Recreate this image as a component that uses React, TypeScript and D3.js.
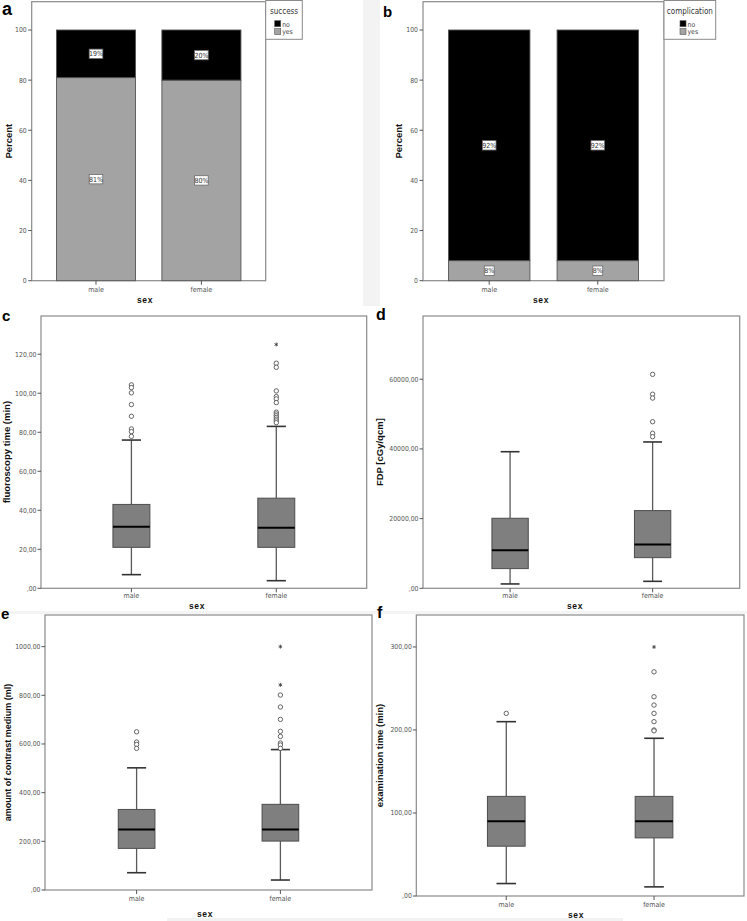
import React from "react";
import * as d3 from "d3";

// ---------- DATA ----------
const sexCategories = ["male", "female"];

const successNo = [19, 20];
const successYes = [81, 80];
const complicationNo = [92, 92];
const complicationYes = [8, 8];
const percentTicks = [0, 20, 40, 60, 80, 100];

// box stats: [low whisker, Q1, median, Q3, high whisker]
const fluoroMale = [7, 21, 31.5, 43, 76];
const fluoroFemale = [3.9, 21, 31, 46.2, 83];
const fluoroMaleOutliers = [104.3, 102.9, 100.2, 94.2, 88.2, 81.7, 80.3, 77.9];
const fluoroFemaleOutliers = [115.4, 113.3, 101.2, 98.3, 97.1, 95.2, 90.3, 89.4, 88.5, 87.6, 86.7, 85.8, 84.9];
const fluoroFemaleExtremes = [125];
const fluoroTicks = [0, 20, 40, 60, 80, 100, 120];

const fdpMale = [1250, 5650, 10900, 20100, 39200];
const fdpFemale = [2000, 8800, 12600, 22300, 42000];
const fdpMaleOutliers: number[] = [];
const fdpFemaleOutliers = [61400, 55700, 54600, 47800, 44500, 43500];
const fdpTicks = [0, 20000, 40000, 60000];

const contrastMale = [71, 171, 249, 331, 502];
const contrastFemale = [41, 201, 249, 352, 577];
const contrastMaleOutliers = [650, 608, 598, 582];
const contrastFemaleOutliers = [801, 752, 701, 652, 631, 604, 596, 582];
const contrastFemaleExtremes = [1000, 843];
const contrastTicks = [0, 200, 400, 600, 800, 1000];

const examMale = [15, 60, 90, 120, 210];
const examFemale = [11, 70, 90, 120, 190];
const examMaleOutliers = [220];
const examFemaleOutliers = [270, 240, 230, 220, 210, 200, 199];
const examFemaleExtremes = [300];
const examTicks = [0, 100, 200, 300];

// ---------- STYLE ----------
const tickFont = "'Liberation Sans Narrow', 'DejaVu Sans Condensed', 'Liberation Sans', Arial, sans-serif";
const boldFont = "'Liberation Sans', Arial, sans-serif";
const frameColor = "#8a8a8a";

const fmt = (v: number) => (v === 0 ? ",00" : `${v},00`);

type Frame = { x0: number; x1: number; y0: number; y1: number };

function BarPanel(props: {
  frame: Frame;
  y100: number;
  noVals: number[];
  yesVals: number[];
  legendTitle: string;
  legend: { x0: number; x1: number; sq: number };
  letter: string;
  letterPos: [number, number, number];
  yTitleX: number;
  sexX: number;
}) {
  const { frame, noVals, yesVals } = props;
  const y = d3.scaleLinear().domain([0, 100]).range([frame.y1, props.y100]);
  const x = d3.scalePoint<string>().domain(sexCategories).range([frame.x0, frame.x1]).padding(0.61);
  const bw = x.step() * 0.75;
  const labelBox = (cx: number, cy: number, t: string, key: string) => {
    const w = t.length * 3.7 + 2.5;
    return (
      <g key={key}>
        <rect x={cx - w / 2} y={cy - 4.7} width={w} height={9.4} fill="#fff" stroke="#6a6a6a" strokeWidth={0.8} />
        <text x={cx} y={cy + 2.5} textAnchor="middle" fontSize={7} fontFamily={tickFont} fill="#333">{t}</text>
      </g>
    );
  };
  return (
    <g>
      <rect x={frame.x0} y={frame.y0} width={frame.x1 - frame.x0} height={frame.y1 - frame.y0} fill="#fff" stroke={frameColor} strokeWidth={1.2} />
      {sexCategories.map((c, i) => {
        const cx = x(c)!;
        const yesTop = y(yesVals[i]);
        const noTop = y(yesVals[i] + noVals[i]);
        return (
          <g key={c}>
            <rect x={cx - bw / 2} y={yesTop} width={bw} height={y(0) - yesTop} fill="#a3a3a3" stroke="#555" strokeWidth={0.9} />
            <rect x={cx - bw / 2} y={noTop} width={bw} height={yesTop - noTop} fill="#000" stroke="#555" strokeWidth={0.9} />
            {labelBox(cx, (yesTop + y(0)) / 2, `${yesVals[i]}%`, "y" + c)}
            {labelBox(cx, (noTop + yesTop) / 2, `${noVals[i]}%`, "n" + c)}
            <line x1={cx} x2={cx} y1={frame.y1} y2={frame.y1 + 4} stroke="#555" />
            <text x={cx} y={frame.y1 + 11.5} textAnchor="middle" fontSize={7} fontFamily={tickFont} fill="#555">{c}</text>
          </g>
        );
      })}
      {percentTicks.map((t) => (
        <g key={t}>
          <line x1={frame.x0 - 3.5} x2={frame.x0} y1={y(t)} y2={y(t)} stroke="#555" />
          <text x={frame.x0 - 5} y={y(t) + 2.4} textAnchor="end" fontSize={6.8} fontFamily={tickFont} fill="#555">{t}</text>
        </g>
      ))}
      <text transform={`translate(${props.yTitleX},${(frame.y0 + frame.y1) / 2}) rotate(-90)`} textAnchor="middle" fontSize={9.5} fontWeight="bold" fontFamily={boldFont} fill="#111">Percent</text>
      <text x={props.sexX} y={303} textAnchor="middle" fontSize={8.5} fontWeight="bold" fontFamily={boldFont} letterSpacing={0.6} fill="#111">sex</text>
      <rect x={props.legend.x0} y={0.5} width={props.legend.x1 - props.legend.x0} height={38.8} fill="#fff" stroke={frameColor} strokeWidth={1} />
      <text x={(props.legend.x0 + props.legend.x1) / 2} y={14} textAnchor="middle" fontSize={8} fontFamily={tickFont} fill="#333">{props.legendTitle}</text>
      <rect x={props.legend.sq} y={20.7} width={6} height={6} fill="#000" stroke="#555" strokeWidth={0.6} />
      <text x={props.legend.sq + 7.5} y={26.5} fontSize={6.8} fontFamily={tickFont} fill="#444">no</text>
      <rect x={props.legend.sq} y={28.6} width={6} height={6} fill="#a3a3a3" stroke="#555" strokeWidth={0.6} />
      <text x={props.legend.sq + 7.5} y={34.3} fontSize={6.8} fontFamily={tickFont} fill="#444">yes</text>
      <text x={props.letterPos[0]} y={props.letterPos[1]} fontSize={props.letterPos[2]} fontWeight="bold" fontFamily={boldFont} fill="#000">{props.letter}</text>
    </g>
  );
}

function Asterisk({ cx, cy }: { cx: number; cy: number }) {
  const r = 2;
  return (
    <g stroke="#333" strokeWidth={0.8}>
      {[90, 30, -30].map((a) => {
        const rad = (a * Math.PI) / 180;
        return <line key={a} x1={cx - r * Math.cos(rad)} y1={cy - r * Math.sin(rad)} x2={cx + r * Math.cos(rad)} y2={cy + r * Math.sin(rad)} />;
      })}
    </g>
  );
}

function BoxPanel(props: {
  frame: Frame;
  yMax: number;
  ticks: number[];
  stats: number[][];
  outliers: number[][];
  extremes: number[][];
  yTitle: string;
  yTitleX: number;
  yTitleSize: number;
  letter: string;
  letterPos: [number, number, number];
  catLabelY: number;
  sexPos: [number, number];
  padding: number;
}) {
  const { frame } = props;
  const y = d3.scaleLinear().domain([0, props.yMax]).range([frame.y1, frame.y0]);
  const x = d3.scalePoint<string>().domain(sexCategories).range([frame.x0, frame.x1]).padding(props.padding);
  const bw = x.step() * 0.255;
  const cw = bw * 0.52;
  return (
    <g>
      <rect x={frame.x0} y={frame.y0} width={frame.x1 - frame.x0} height={frame.y1 - frame.y0} fill="#fff" stroke={frameColor} strokeWidth={1.2} />
      {sexCategories.map((c, i) => {
        const cx = x(c)!;
        const [lo, q1, med, q3, hi] = props.stats[i];
        return (
          <g key={c}>
            <line x1={cx} x2={cx} y1={y(lo)} y2={y(q1)} stroke="#5a5a5a" strokeWidth={1.3} />
            <line x1={cx} x2={cx} y1={y(q3)} y2={y(hi)} stroke="#5a5a5a" strokeWidth={1.3} />
            <line x1={cx - cw / 2} x2={cx + cw / 2} y1={y(lo)} y2={y(lo)} stroke="#333" strokeWidth={1.6} />
            <line x1={cx - cw / 2} x2={cx + cw / 2} y1={y(hi)} y2={y(hi)} stroke="#333" strokeWidth={1.6} />
            <rect x={cx - bw / 2} y={y(q3)} width={bw} height={y(q1) - y(q3)} fill="#7f7f7f" stroke="#4d4d4d" strokeWidth={1} />
            <line x1={cx - bw / 2} x2={cx + bw / 2} y1={y(med)} y2={y(med)} stroke="#000" strokeWidth={2} />
            {props.outliers[i].map((v, k) => (
              <circle key={k} cx={cx} cy={y(v)} r={2.2} fill="#fff" stroke="#555" strokeWidth={0.9} />
            ))}
            {props.extremes[i].map((v, k) => (
              <Asterisk key={"e" + k} cx={cx} cy={y(v)} />
            ))}
            <line x1={cx} x2={cx} y1={frame.y1} y2={frame.y1 + 4} stroke="#555" />
            <text x={cx} y={props.catLabelY} textAnchor="middle" fontSize={7} fontFamily={tickFont} fill="#555">{c}</text>
          </g>
        );
      })}
      {props.ticks.map((t) => (
        <g key={t}>
          <line x1={frame.x0 - 3.5} x2={frame.x0} y1={y(t)} y2={y(t)} stroke="#555" />
          <text x={frame.x0 - 4.5} y={y(t) + 2.4} textAnchor="end" fontSize={6.8} fontFamily={tickFont} fill="#555">{fmt(t)}</text>
        </g>
      ))}
      <text transform={`translate(${props.yTitleX},${(frame.y0 + frame.y1) / 2}) rotate(-90)`} textAnchor="middle" fontSize={props.yTitleSize} fontWeight="bold" fontFamily={boldFont} fill="#111">{props.yTitle}</text>
      <text x={props.sexPos[0]} y={props.sexPos[1]} textAnchor="middle" fontSize={8.5} fontWeight="bold" fontFamily={boldFont} letterSpacing={0.6} fill="#111">sex</text>
      <text x={props.letterPos[0]} y={props.letterPos[1]} fontSize={props.letterPos[2]} fontWeight="bold" fontFamily={boldFont} fill="#000">{props.letter}</text>
    </g>
  );
}

export default function App() {
  return (
    <div style={{ position: "absolute", left: 0, top: 0 }}>
      <svg width={747} height={921} viewBox="0 0 747 921" style={{ display: "block", background: "#fff" }}>
        <rect x={0} y={0} width={747} height={921} fill="#fff" />
        <rect x={363} y={0} width={17} height={306} fill="#f3f3f3" />
        <rect x={0} y={611} width={747} height={3} fill="#f4f4f4" />
        <rect x={167} y={918} width={206} height={3} fill="#f2f2f2" />
        <rect x={373} y={918} width={250} height={3} fill="#f2f2f2" />

        <BarPanel
          frame={{ x0: 31.7, x1: 265.7, y0: 1.7, y1: 280.7 }}
          y100={30}
          noVals={successNo}
          yesVals={successYes}
          legendTitle="success"
          legend={{ x0: 265.7, x1: 302.3, sq: 274.7 }}
          letter="a"
          letterPos={[2, 15, 18]}
          yTitleX={11.5}
          sexX={145}
        />
        <BarPanel
          frame={{ x0: 423, x1: 664, y0: 1.7, y1: 280.7 }}
          y100={30}
          noVals={complicationNo}
          yesVals={complicationYes}
          legendTitle="complication"
          legend={{ x0: 664, x1: 715.7, sq: 680 }}
          letter="b"
          letterPos={[383, 17, 15]}
          yTitleX={401.5}
          sexX={541}
        />
        <BoxPanel
          frame={{ x0: 41, x1: 366.7, y0: 316, y1: 588.3 }}
          yMax={139.6}
          ticks={fluoroTicks}
          stats={[fluoroMale, fluoroFemale]}
          outliers={[fluoroMaleOutliers, fluoroFemaleOutliers]}
          extremes={[[], fluoroFemaleExtremes]}
          yTitle="fluoroscopy time (min)"
          yTitleX={10}
          yTitleSize={9.5}
          letter="c"
          letterPos={[2, 321, 15]}
          catLabelY={598}
          sexPos={[197, 608.5]}
          padding={0.624}
        />
        <BoxPanel
          frame={{ x0: 423, x1: 739.7, y0: 316, y1: 588.3 }}
          yMax={78150}
          ticks={fdpTicks}
          stats={[fdpMale, fdpFemale]}
          outliers={[fdpMaleOutliers, fdpFemaleOutliers]}
          extremes={[[], []]}
          yTitle="FDP [cGy/qcm]"
          yTitleX={383}
          yTitleSize={9.5}
          letter="d"
          letterPos={[376, 320, 16]}
          catLabelY={598}
          sexPos={[575, 608.5]}
          padding={0.611}
        />
        <BoxPanel
          frame={{ x0: 45, x1: 372, y0: 615, y1: 890 }}
          yMax={1130}
          ticks={contrastTicks}
          stats={[contrastMale, contrastFemale]}
          outliers={[contrastMaleOutliers, contrastFemaleOutliers]}
          extremes={[[], contrastFemaleExtremes]}
          yTitle="amount of contrast medium (ml)"
          yTitleX={10.5}
          yTitleSize={9}
          letter="e"
          letterPos={[1, 619, 15]}
          catLabelY={901}
          sexPos={[205, 917]}
          padding={0.637}
        />
        <BoxPanel
          frame={{ x0: 416.3, x1: 744, y0: 615, y1: 896 }}
          yMax={338.5}
          ticks={examTicks}
          stats={[examMale, examFemale]}
          outliers={[examMaleOutliers, examFemaleOutliers]}
          extremes={[[], examFemaleExtremes]}
          yTitle="examination time (min)"
          yTitleX={383}
          yTitleSize={9.5}
          letter="f"
          letterPos={[377, 618, 16]}
          catLabelY={907}
          sexPos={[576, 917.5]}
          padding={0.609}
        />
      </svg>
    </div>
  );
}
